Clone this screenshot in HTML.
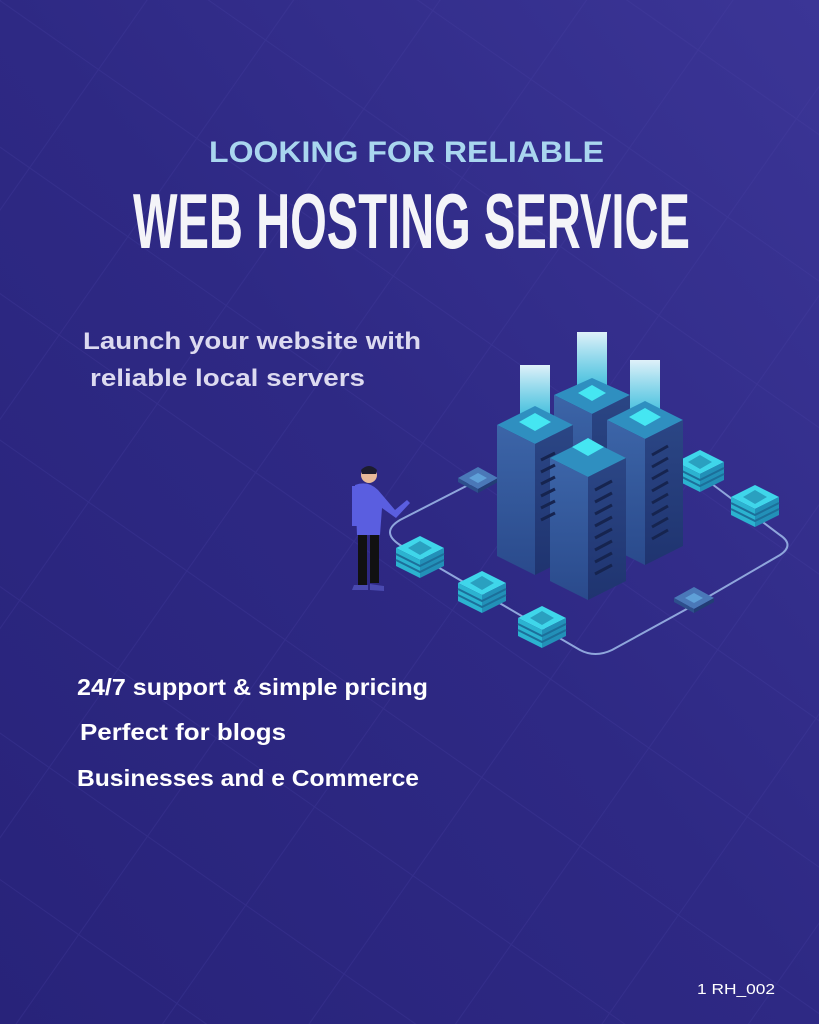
<!DOCTYPE html>
<html><head><meta charset="utf-8"><style>
html,body{margin:0;padding:0;background:#2c2780}
svg{display:block}
</style></head><body>
<svg width="819" height="1024" viewBox="0 0 819 1024" xmlns="http://www.w3.org/2000/svg">
<defs>
<linearGradient id="bg" x1="1" y1="0" x2="0" y2="1">
<stop offset="0" stop-color="#3b3596"/><stop offset="0.5" stop-color="#2e2984"/><stop offset="1" stop-color="#28237a"/>
</linearGradient>
<linearGradient id="beam" x1="0" y1="0" x2="0" y2="1">
<stop offset="0" stop-color="#e8fbff" stop-opacity="0.95"/><stop offset="1" stop-color="#3ee0f0" stop-opacity="0.8"/>
</linearGradient>
<linearGradient id="lf" x1="0" y1="0" x2="0" y2="1"><stop offset="0" stop-color="#3c65a8"/><stop offset="1" stop-color="#2a4a8c"/></linearGradient>
<linearGradient id="rf" x1="0" y1="0" x2="0" y2="1"><stop offset="0" stop-color="#2b4685"/><stop offset="1" stop-color="#1f3470"/></linearGradient>
<pattern id="grid" width="120" height="120" patternUnits="userSpaceOnUse" patternTransform="rotate(35)">
<path d="M0 0H120M0 0V120" stroke="#4a44a8" stroke-opacity="0.25" stroke-width="2" fill="none"/>
</pattern>
<g id="stack">
<polygon points="0,-12 24,0 0,12 -24,0" fill="#3fd6ea"/>
<polygon points="-24,0 0,12 0,30 -24,18" fill="#2bb3d0"/>
<polygon points="0,12 24,0 24,18 0,30" fill="#2290b8"/>
<path d="M-24,6 L0,18 L24,6 M-24,12 L0,24 L24,12" stroke="#1c6f9a" stroke-width="2" fill="none"/>
<polygon points="0,-7 12,0 0,7 -12,0" fill="#2aa0c0"/>
</g>
<g id="chip">
<polygon points="0,-11 20,0 0,11 -20,0" fill="#4a78b8"/>
<polygon points="-20,0 0,11 0,15 -20,4" fill="#2d4f8c"/>
<polygon points="0,11 20,0 20,4 0,15" fill="#223d75"/>
<polygon points="0,-5 9,0 0,5 -9,0" fill="#5fa0d8"/>
</g>
</defs>
<rect width="819" height="1024" fill="url(#bg)"/>
<rect width="819" height="1024" fill="url(#grid)"/>

<!-- connection lines -->
<path d="M478,480 L400,520 Q380,532 400,545 L580,650 Q595,658 612,650 L694,605 L780,555 Q795,545 780,535 L700,475" stroke="#8fa6dc" stroke-width="2" fill="none"/>

<g>
<use href="#chip" x="478" y="478"/>
<use href="#chip" x="694" y="598"/>
<use href="#stack" x="700" y="462"/>
<use href="#stack" x="755" y="497"/>
<use href="#stack" x="420" y="548"/>
<use href="#stack" x="482" y="583"/>
<use href="#stack" x="542" y="618"/>
</g>

<!-- towers: B, A, C, D -->
<g id="towers">
<!-- B -->
<rect x="577" y="332" width="30" height="60" fill="url(#beam)"/>
<polygon points="592,378 630,395 592,414 554,395" fill="#2f8fc0"/>
<polygon points="554,395 592,414 592,530 554,511" fill="url(#lf)"/>
<polygon points="592,414 630,395 630,511 592,530" fill="url(#rf)"/>
<polygon points="592,385 606,393 592,401 578,393" fill="#45e6f2"/>
<!-- A -->
<rect x="520" y="365" width="30" height="55" fill="url(#beam)"/>
<polygon points="535,406 573,425 535,444 497,425" fill="#2f8fc0"/>
<polygon points="497,425 535,444 535,575 497,556" fill="url(#lf)"/>
<polygon points="535,444 573,425 573,556 535,575" fill="url(#rf)"/>
<polygon points="535,413 551,422 535,431 519,422" fill="#45e6f2"/>
<!-- C -->
<rect x="630" y="360" width="30" height="58" fill="url(#beam)"/>
<polygon points="645,401 683,420 645,439 607,420" fill="#2f8fc0"/>
<polygon points="607,420 645,439 645,565 607,546" fill="url(#lf)"/>
<polygon points="645,439 683,420 683,546 645,565" fill="url(#rf)"/>
<polygon points="645,408 661,417 645,426 629,417" fill="#45e6f2"/>
<!-- D -->
<polygon points="588,439 626,458 588,477 550,458" fill="#2f8fc0"/>
<polygon points="550,458 588,477 588,600 550,581" fill="url(#lf)"/>
<polygon points="588,477 626,458 626,581 588,600" fill="url(#rf)"/>
<polygon points="588,438 604,447 588,456 572,447" fill="#45e6f2"/>
<g stroke="#16244f" stroke-width="3">
<path d="M595,490 L612,481 M595,502 L612,493 M595,514 L612,505 M595,526 L612,517 M595,538 L612,529 M595,550 L612,541 M595,562 L612,553 M595,574 L612,565"/>
<path d="M652,455 L668,446 M652,467 L668,458 M652,479 L668,470 M652,491 L668,482 M652,503 L668,494 M652,515 L668,506 M652,527 L668,518 M652,539 L668,530"/>
<path d="M541,460 L555,453 M541,472 L555,465 M541,484 L555,477 M541,496 L555,489 M541,508 L555,501 M541,520 L555,513"/>
</g>
</g>

<!-- person -->
<g>
<circle cx="369" cy="475" r="8" fill="#e7b99a"/>
<path d="M361,470 Q369,462 377,470 L376,474 L362,474Z" fill="#1c1c2e"/>
<path d="M355,485 Q368,480 378,490 L395,510 L407,500 L410,503 L396,518 L382,508 L380,535 L357,535 Z" fill="#5a5ee0"/>
<rect x="358" y="535" width="9" height="50" fill="#111"/>
<rect x="370" y="535" width="9" height="48" fill="#111"/>
<path d="M354,585 L368,585 L368,590 L352,590Z" fill="#4a4ab0"/>
<path d="M370,584 L384,586 L384,591 L370,590Z" fill="#4a4ab0"/>
<rect x="352" y="486" width="8" height="40" fill="#5a5ee0"/>
</g>

<g font-family="'Liberation Sans', sans-serif" font-weight="bold">
<text x="209" y="162" font-size="30" fill="#a9d6ef" textLength="395" lengthAdjust="spacingAndGlyphs">LOOKING FOR RELIABLE</text>
<text x="133" y="248" font-size="78" fill="#f4f4f8" font-family="'Liberation Sans Narrow','Liberation Sans',sans-serif" textLength="557" lengthAdjust="spacingAndGlyphs">WEB HOSTING SERVICE</text>
<text x="83" y="349" font-size="24" fill="#dcdaf0" textLength="338" lengthAdjust="spacingAndGlyphs">Launch your website with</text>
<text x="90" y="386" font-size="24" fill="#dcdaf0" textLength="275" lengthAdjust="spacingAndGlyphs">reliable local servers</text>
<text x="77" y="695" font-size="23" fill="#ffffff" textLength="351" lengthAdjust="spacingAndGlyphs">24/7 support &amp; simple pricing</text>
<text x="80" y="740" font-size="23" fill="#ffffff" textLength="206" lengthAdjust="spacingAndGlyphs">Perfect  for blogs</text>
<text x="77" y="786" font-size="23" fill="#ffffff" textLength="342" lengthAdjust="spacingAndGlyphs">Businesses and e Commerce</text>
<text x="697" y="994" font-size="15" font-weight="normal" fill="#ffffff" textLength="78" lengthAdjust="spacingAndGlyphs">1 RH_002</text>
</g>
</svg>
</body></html>
